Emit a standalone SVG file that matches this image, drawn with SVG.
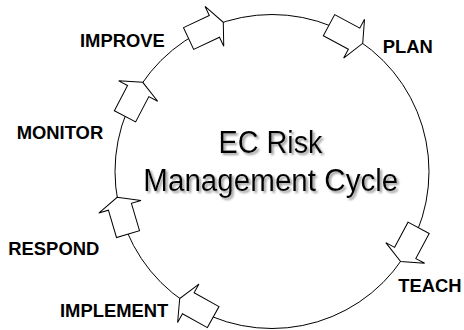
<svg xmlns="http://www.w3.org/2000/svg" width="464" height="330" viewBox="0 0 464 330">
<style>
.ring{fill:none;stroke:#000;stroke-width:1}
.arrow{fill:#fff;stroke:#000;stroke-width:1;stroke-linejoin:miter}
.lbl{font-family:"Liberation Sans",Arial,sans-serif;font-weight:bold;font-size:18.4px;fill:#000}
.title{font-family:"Liberation Sans",Arial,sans-serif;font-size:31px;fill:#000;text-anchor:middle;filter:url(#shadow)}
</style>
<defs>
<polygon id="arrowShape" points="0,-12 28.5,-12 28.5,-22 38.3,0 28.5,22 28.5,12 0,12"/>
<filter id="shadow" x="-10%" y="-30%" width="120%" height="170%">
<feGaussianBlur in="SourceAlpha" stdDeviation="0.8" result="b"/>
<feOffset in="b" dx="2" dy="2" result="o"/>
<feFlood flood-color="#9a9a9a"/>
<feComposite in2="o" operator="in" result="s"/>
<feMerge><feMergeNode in="s"/><feMergeNode in="SourceGraphic"/></feMerge>
</filter>
</defs>
<rect width="464" height="330" fill="#fff"/>
<g id="connectors">
<circle class="ring" cx="272" cy="171.5" r="157"/>
</g>
<g id="title">
<text class="title" x="270.5" y="153.3" textLength="104" lengthAdjust="spacingAndGlyphs">EC Risk</text>
<text class="title" x="270.8" y="191" textLength="255" lengthAdjust="spacingAndGlyphs">Management Cycle</text>
</g>
<g id="plan">
<use class="arrow" href="#arrowShape" transform="translate(329.0,25.2) rotate(28.3)"/>
<text class="lbl" x="382.7" y="53.3">PLAN</text>
</g>
<g id="teach">
<use class="arrow" href="#arrowShape" transform="translate(418.6,227.8) rotate(118)"/>
<text class="lbl" x="398.3" y="291.7">TEACH</text>
</g>
<g id="implement">
<use class="arrow" href="#arrowShape" transform="translate(213.2,317.1) rotate(209)"/>
<text class="lbl" x="60" y="316.7">IMPLEMENT</text>
</g>
<g id="respond">
<use class="arrow" href="#arrowShape" transform="translate(128.0,234.1) rotate(253.5)"/>
<text class="lbl" x="8.3" y="255">RESPOND</text>
</g>
<g id="monitor">
<use class="arrow" href="#arrowShape" transform="translate(125.0,116.3) rotate(297.6)"/>
<text class="lbl" x="16.7" y="139">MONITOR</text>
</g>
<g id="improve">
<use class="arrow" href="#arrowShape" transform="translate(188.6,38.5) rotate(334.9)"/>
<text class="lbl" x="80" y="47.3">IMPROVE</text>
</g>
</svg>
